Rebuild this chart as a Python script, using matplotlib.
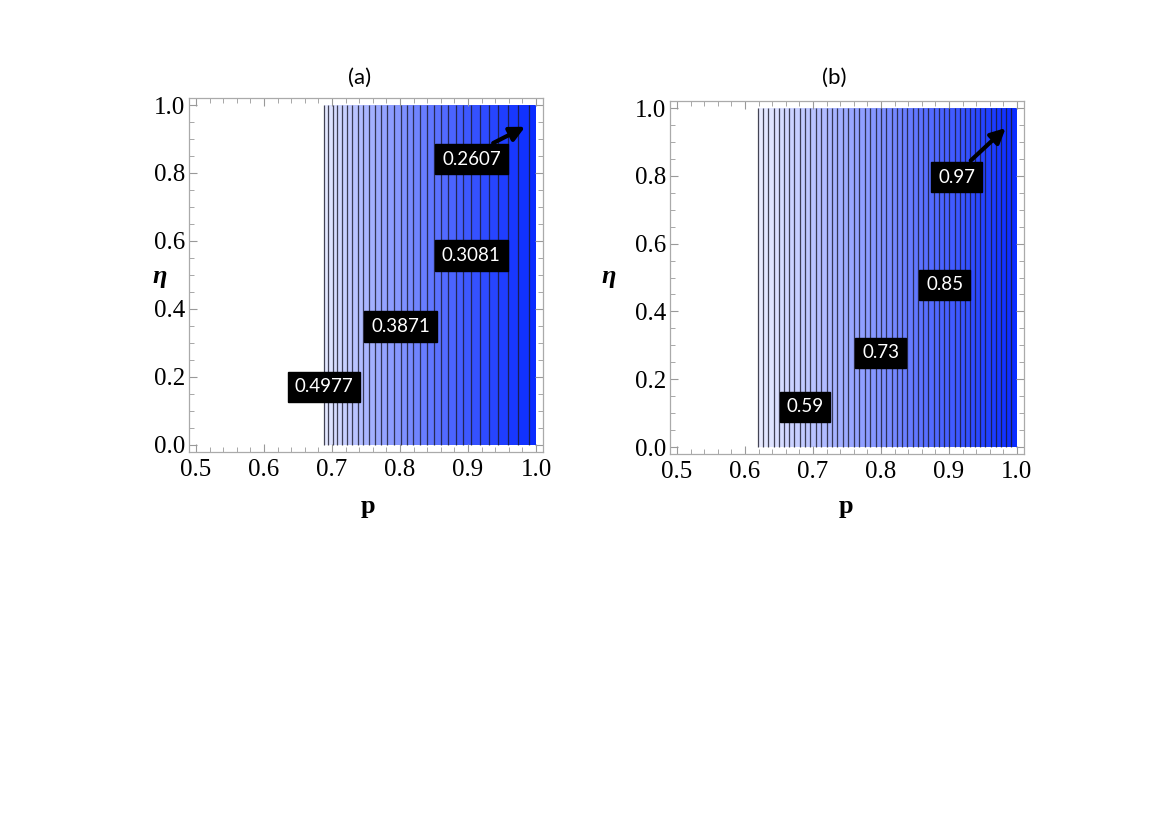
import matplotlib.pyplot as plt
from matplotlib.colors import LinearSegmentedColormap
from matplotlib.ticker import MultipleLocator

# contour line positions (p), panel (a): level 0.4977 down to 0.2607
p_lines_a = [0.6880, 0.6943, 0.7009, 0.7077, 0.7148, 0.7222, 0.7299, 0.7378,
             0.7460, 0.7545, 0.7632, 0.7722, 0.7815, 0.7911, 0.8009, 0.8101,
             0.8196, 0.8293, 0.8393, 0.8495, 0.8600, 0.8708, 0.8818, 0.8931,
             0.9046, 0.9171, 0.9303, 0.9442, 0.9588, 0.9741, 0.9901]
labels_a = ['0.4977', '0.3871', '0.3081', '0.2607']

# panel (b): levels 0.50 ... 0.98
p_lines_b = [0.6190, 0.6267, 0.6343, 0.6420, 0.6497, 0.6573, 0.6650, 0.6727,
             0.6803, 0.6880, 0.6960, 0.7040, 0.7120, 0.7200, 0.7280, 0.7360,
             0.7440, 0.7520, 0.7600, 0.7680, 0.7760, 0.7840, 0.7920, 0.8000,
             0.8078, 0.8155, 0.8233, 0.8310, 0.8388, 0.8465, 0.8543, 0.8620,
             0.8698, 0.8775, 0.8853, 0.8930, 0.9006, 0.9082, 0.9158, 0.9233,
             0.9309, 0.9385, 0.9461, 0.9537, 0.9612, 0.9688, 0.9764, 0.9840,
             0.9916]
labels_b = ['0.59', '0.73', '0.85', '0.97']

p_max = 1.0
eta_min, eta_max = 0.0, 1.0

cmap = LinearSegmentedColormap.from_list('wb', ['#ffffff', '#0a2cff'])
serif = 'Liberation Serif'
box_font = 'Lato'


def draw_panel(ax, lines, labels, label_xy, arrow_from, arrow_to):
    edges = list(lines) + [p_max]
    n = len(edges) - 1
    for i in range(n):
        c = cmap(0.08 + 0.92 * (i + 1) / n)
        ax.fill_betweenx([eta_min, eta_max], edges[i], edges[i + 1], color=c, lw=0)
    ax.vlines(lines, eta_min, eta_max, colors='#1a1a2a', lw=0.9, alpha=0.8)

    for txt, (x, y) in zip(labels, label_xy):
        ax.text(x, y, txt, ha='center', va='center', color='white', fontsize=13.5,
                family=box_font, zorder=6,
                bbox=dict(boxstyle='square,pad=0.36', fc='black', ec='black'))
    ax.annotate('', xy=arrow_to, xytext=arrow_from, zorder=5,
                arrowprops=dict(arrowstyle='-|>', lw=3, color='black',
                                mutation_scale=22, shrinkA=0, shrinkB=0))

    ax.set_xlim(0.4897, 1.0103)
    ax.set_ylim(-0.0206, 1.0206)
    ax.xaxis.set_major_locator(MultipleLocator(0.1))
    ax.xaxis.set_minor_locator(MultipleLocator(0.02))
    ax.yaxis.set_major_locator(MultipleLocator(0.2))
    ax.yaxis.set_minor_locator(MultipleLocator(0.05))
    ax.xaxis.set_major_formatter(plt.FuncFormatter(lambda v, _: f'{v:.1f}'))
    ax.yaxis.set_major_formatter(plt.FuncFormatter(lambda v, _: f'{v:.1f}'))
    ax.tick_params(which='both', direction='in', top=True, right=True,
                   color='#999999', labelsize=18, labelcolor='black')
    ax.tick_params(which='major', length=6, width=0.8)
    ax.tick_params(which='minor', length=3.5, width=0.6)
    ax.tick_params(axis='x', pad=5)
    ax.tick_params(axis='y', pad=3)
    for lab in ax.get_xticklabels() + ax.get_yticklabels():
        lab.set_family(serif)
    for s in ax.spines.values():
        s.set_color('#aaaaaa')
        s.set_linewidth(0.9)


fig = plt.figure(figsize=(11.7, 8.27), dpi=100)
ax_a = fig.add_axes([0.1615, 0.4535, 0.3026, 0.428])
ax_b = fig.add_axes([0.5726, 0.4510, 0.3026, 0.4268])

draw_panel(ax_a, p_lines_a, labels_a,
           [(0.688, 0.171), (0.8007, 0.349), (0.905, 0.557), (0.905, 0.841)],
           (0.937, 0.888), (0.984, 0.936))
draw_panel(ax_b, p_lines_b, labels_b,
           [(0.6884, 0.1185), (0.7996, 0.2776), (0.8937, 0.4785), (0.9113, 0.796)],
           (0.932, 0.845), (0.9834, 0.941))

W, H = 1170, 827
for x, t in [(360, '(a)'), (834, '(b)')]:
    fig.text(x / W, 1 - 78 / H, t, ha='center', va='center', fontsize=16, family=box_font)
for x in [368, 846]:
    fig.text(x / W, 1 - 507 / H, 'p', ha='center', va='center', fontsize=19,
             family=serif, weight='bold')
for x in [160, 609]:
    fig.text(x / W, 1 - 276 / H, 'η', ha='center', va='center', fontsize=19,
             family=serif, weight='bold', style='italic')

fig.savefig('out.png', dpi=100)
